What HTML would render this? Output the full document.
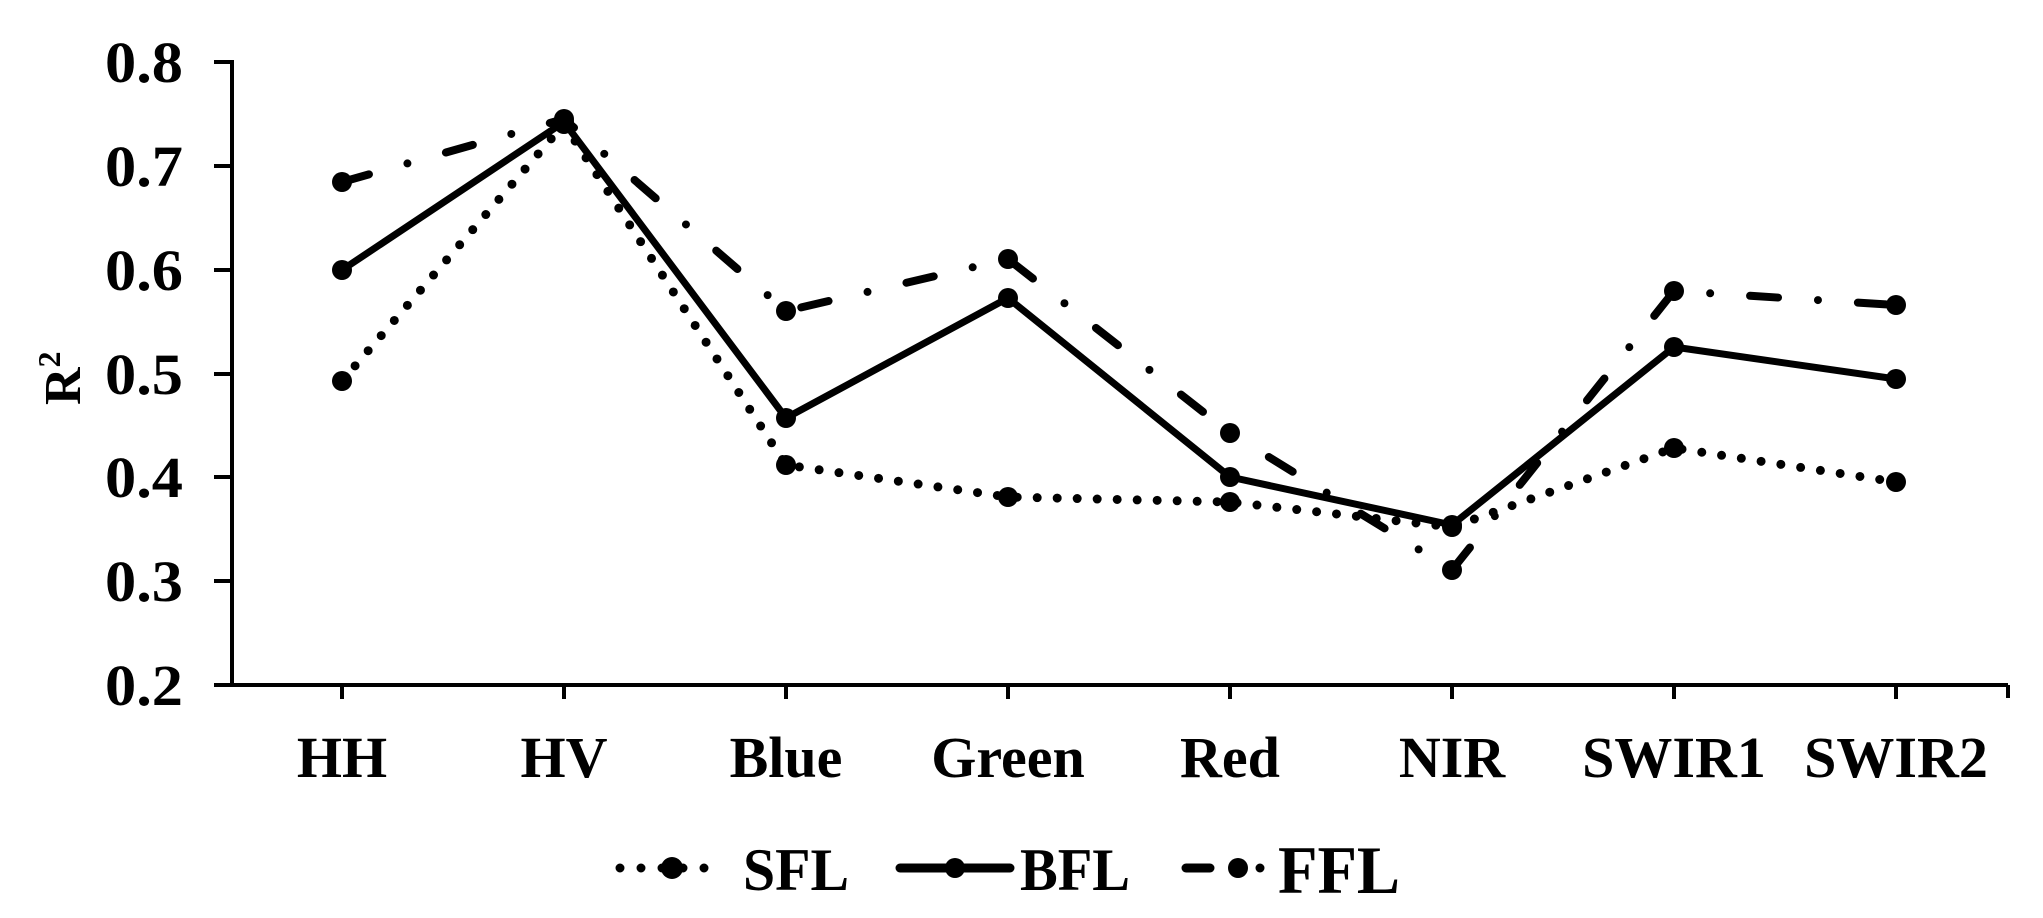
<!DOCTYPE html>
<html><head><meta charset="utf-8"><style>
html,body{margin:0;padding:0;background:#fff;}
svg{display:block;}
text{font-family:"Liberation Serif",serif;font-weight:bold;fill:#000;}
</style></head><body>
<svg width="2043" height="918" viewBox="0 0 2043 918" xmlns="http://www.w3.org/2000/svg">
<g stroke="#000" stroke-width="4" fill="none">
<line x1="232" y1="60" x2="232" y2="687"/>
<line x1="214" y1="685" x2="2008" y2="685"/>
<line x1="2008" y1="685" x2="2008" y2="698"/>
<line x1="214" y1="62" x2="232" y2="62"/>
<line x1="214" y1="166" x2="232" y2="166"/>
<line x1="214" y1="270" x2="232" y2="270"/>
<line x1="214" y1="374" x2="232" y2="374"/>
<line x1="214" y1="477" x2="232" y2="477"/>
<line x1="214" y1="581" x2="232" y2="581"/>
<line x1="342" y1="685" x2="342" y2="699"/>
<line x1="564" y1="685" x2="564" y2="699"/>
<line x1="786" y1="685" x2="786" y2="699"/>
<line x1="1008" y1="685" x2="1008" y2="699"/>
<line x1="1230" y1="685" x2="1230" y2="699"/>
<line x1="1452" y1="685" x2="1452" y2="699"/>
<line x1="1674" y1="685" x2="1674" y2="699"/>
<line x1="1896" y1="685" x2="1896" y2="699"/>
</g>
<g font-size="58" text-anchor="end">
<text x="183" y="82" textLength="78" lengthAdjust="spacingAndGlyphs">0.8</text>
<text x="183" y="186" textLength="78" lengthAdjust="spacingAndGlyphs">0.7</text>
<text x="183" y="290" textLength="78" lengthAdjust="spacingAndGlyphs">0.6</text>
<text x="183" y="394" textLength="78" lengthAdjust="spacingAndGlyphs">0.5</text>
<text x="183" y="497" textLength="78" lengthAdjust="spacingAndGlyphs">0.4</text>
<text x="183" y="601" textLength="78" lengthAdjust="spacingAndGlyphs">0.3</text>
<text x="183" y="705" textLength="78" lengthAdjust="spacingAndGlyphs">0.2</text>
</g>
<text transform="translate(80,405) rotate(-90)" font-size="52">R<tspan font-size="32" dy="-20">2</tspan></text>
<g font-size="58" text-anchor="middle">
<text x="342" y="777">HH</text>
<text x="564" y="777">HV</text>
<text x="786" y="777">Blue</text>
<text x="1008" y="777">Green</text>
<text x="1230" y="777">Red</text>
<text x="1452" y="777">NIR</text>
<text x="1674" y="777">SWIR1</text>
<text x="1896" y="777">SWIR2</text>
</g>
<polyline fill="none" stroke="#000" stroke-width="9" stroke-linecap="round" stroke-dasharray="0 20"
 points="342,381 564,124 786,465 1008,497 1230,502 1452,527 1674,448 1896,482"/>
<polyline fill="none" stroke="#000" stroke-width="7" stroke-linejoin="round"
 points="342,270 564,122 786,418 1008,298 1230,477 1452,525 1674,347 1896,379"/>
<polyline fill="none" stroke="#000" stroke-width="8" stroke-linecap="round" stroke-dasharray="28 40 0 40"
 points="342,182 564,119 786,311 1008,259 1230,433 1452,570 1674,291 1896,305"/>
<g fill="#000">
<circle cx="342" cy="381" r="10"/><circle cx="564" cy="124" r="10"/><circle cx="786" cy="465" r="10"/><circle cx="1008" cy="497" r="10"/><circle cx="1230" cy="502" r="10"/><circle cx="1452" cy="527" r="10"/><circle cx="1674" cy="448" r="10"/><circle cx="1896" cy="482" r="10"/>
<circle cx="342" cy="270" r="10"/><circle cx="564" cy="122" r="10"/><circle cx="786" cy="418" r="10"/><circle cx="1008" cy="298" r="10"/><circle cx="1230" cy="477" r="10"/><circle cx="1452" cy="525" r="10"/><circle cx="1674" cy="347" r="10"/><circle cx="1896" cy="379" r="10"/>
<circle cx="342" cy="182" r="10"/><circle cx="564" cy="119" r="10"/><circle cx="786" cy="311" r="10"/><circle cx="1008" cy="259" r="10"/><circle cx="1230" cy="433" r="10"/><circle cx="1452" cy="570" r="10"/><circle cx="1674" cy="291" r="10"/><circle cx="1896" cy="305" r="10"/>
</g>
<g fill="none" stroke="#000" stroke-linecap="round">
<line x1="620" y1="868" x2="725" y2="868" stroke-width="9" stroke-dasharray="0 21"/>
<line x1="900" y1="868" x2="1010" y2="868" stroke-width="9"/>
<line x1="1186" y1="868" x2="1210" y2="868" stroke-width="9"/>
<line x1="1260" y1="868" x2="1260" y2="868" stroke-width="9"/>
</g>
<g fill="#000">
<circle cx="672" cy="868" r="11"/>
<circle cx="955" cy="868" r="10"/>
<circle cx="1238" cy="868" r="10"/>
</g>
<text x="743" y="890" font-size="60" textLength="106" lengthAdjust="spacingAndGlyphs">SFL</text>
<text x="1020" y="890" font-size="60" textLength="110" lengthAdjust="spacingAndGlyphs">BFL</text>
<text x="1278" y="893" font-size="68" textLength="122" lengthAdjust="spacingAndGlyphs">FFL</text>
</svg>
</body></html>
